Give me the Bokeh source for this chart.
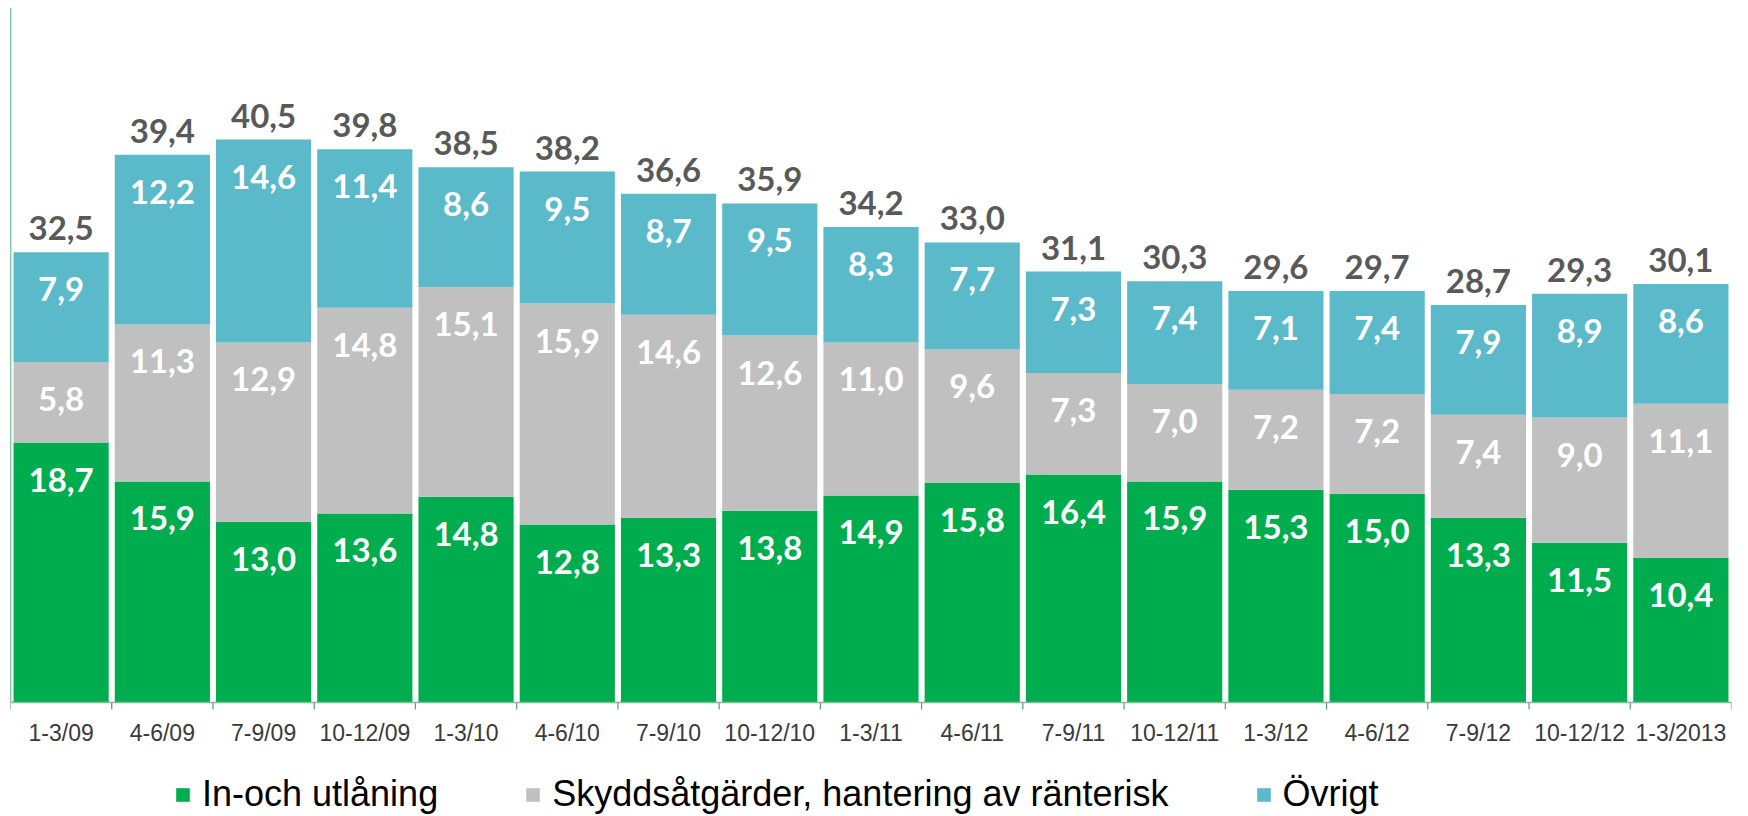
from bokeh.plotting import figure
from bokeh.models import (ColumnDataSource, LabelSet, Legend, LegendItem, Range1d, Span)
from bokeh.core.properties import value
from bokeh.embed import file_html
from bokeh.resources import INLINE

categories = ["1-3/09", "4-6/09", "7-9/09", "10-12/09", "1-3/10", "4-6/10", "7-9/10",
              "10-12/10", "1-3/11", "4-6/11", "7-9/11", "10-12/11", "1-3/12", "4-6/12",
              "7-9/12", "10-12/12", "1-3/2013"]
lending = [18.7, 15.9, 13.0, 13.6, 14.8, 12.8, 13.3, 13.8, 14.9, 15.8, 16.4, 15.9, 15.3, 15.0, 13.3, 11.5, 10.4]
hedging = [5.8, 11.3, 12.9, 14.8, 15.1, 15.9, 14.6, 12.6, 11.0, 9.6, 7.3, 7.0, 7.2, 7.2, 7.4, 9.0, 11.1]
other = [7.9, 12.2, 14.6, 11.4, 8.6, 9.5, 8.7, 9.5, 8.3, 7.7, 7.3, 7.4, 7.1, 7.4, 7.9, 8.9, 8.6]
totals = [32.5, 39.4, 40.5, 39.8, 38.5, 38.2, 36.6, 35.9, 34.2, 33.0, 31.1, 30.3, 29.6, 29.7, 28.7, 29.3, 30.1]
series_names = ["In-och utlåning", "Skyddsåtgärder, hantering av ränterisk", "Övrigt"]
colors = ["#00AD4E", "#C0C0C0", "#5BBAC9"]


def fmt(v):
    return f"{v:.1f}".replace(".", ",")


n = len(categories)
xs = list(range(n))
top_l = [a for a in lending]
top_h = [a + b for a, b in zip(lending, hedging)]
top_o = [a + b + c for a, b, c in zip(lending, hedging, other)]

src = ColumnDataSource(dict(
    x=xs, lending=lending, hedging=hedging, other=other,
    top_l=top_l, top_h=top_h, top_o=top_o, base=[0] * n, cat=categories,
    lab_l=[fmt(v) for v in lending], lab_h=[fmt(v) for v in hedging],
    lab_o=[fmt(v) for v in other], lab_t=[fmt(v) for v in totals],
))

# layout: value axis 0..50 occupies 695 px; frame extends below the baseline
# so that category labels and legend live inside the frame
Y_MAX = 50
PLOT_PX = 695
FRAME_PX = 808
px_per_unit = PLOT_PX / Y_MAX
y_min = -(FRAME_PX - PLOT_PX) / px_per_unit

p = figure(frame_width=1721, frame_height=FRAME_PX,
           x_range=Range1d(-0.5, n - 0.5), y_range=Range1d(y_min, Y_MAX),
           output_backend="svg", toolbar_location=None,
           x_axis_location=None, y_axis_location=None,
           min_border_left=10, min_border_right=8, min_border_top=7, min_border_bottom=0)
p.outline_line_color = None
p.xgrid.visible = False
p.ygrid.visible = False
p.background_fill_color = "white"

rs = p.vbar_stack(["lending", "hedging", "other"], x="x", width=0.94, source=src,
                  color=colors, line_color=None)

# axis lines
p.segment(x0=[p.x_range.start], y0=[0], x1=[p.x_range.start], y1=[Y_MAX],
          line_color="#00A650", line_width=1.5)
p.add_layout(Span(location=0, dimension="width", line_color="#86B89A", line_width=1.5))
bounds = [i - 0.5 for i in range(n + 1)]
tick_len = 7 / px_per_unit
p.segment(x0=bounds, y0=[0] * len(bounds), x1=bounds, y1=[-tick_len] * len(bounds),
          line_color="#4FA374", line_width=1.2)

# category labels
p.add_layout(LabelSet(x="x", y="base", text="cat", source=src, y_offset=-30,
                      text_align="center", text_baseline="middle",
                      text_color="#3A3A3A", text_font=value("Liberation Sans"),
                      text_font_size="23px"))

lbl_font = value("Lato")
for ycol, tcol in [("top_l", "lab_l"), ("top_h", "lab_h"), ("top_o", "lab_o")]:
    p.add_layout(LabelSet(x="x", y=ycol, text=tcol, source=src, y_offset=-37,
                          text_align="center", text_baseline="middle",
                          text_color="white", text_font=lbl_font,
                          text_font_style="bold", text_font_size="33px"))
p.add_layout(LabelSet(x="x", y="top_o", text="lab_t", source=src, y_offset=24,
                      text_align="center", text_baseline="middle",
                      text_color="#595959", text_font=lbl_font,
                      text_font_style="bold", text_font_size="33px"))

legend = Legend(items=[LegendItem(label=series_names[i], renderers=[rs[i]]) for i in range(3)],
                orientation="horizontal", location=(164, 0),
                label_text_font="Liberation Sans", label_text_font_size="36px",
                label_text_color="#000000", glyph_width=17, glyph_height=17,
                label_height=17, label_standoff=11, spacing=86, padding=0, margin=0,
                border_line_color=None, background_fill_alpha=0)
p.add_layout(legend, "center")

open("out.html", "w").write(file_html(p, INLINE))
